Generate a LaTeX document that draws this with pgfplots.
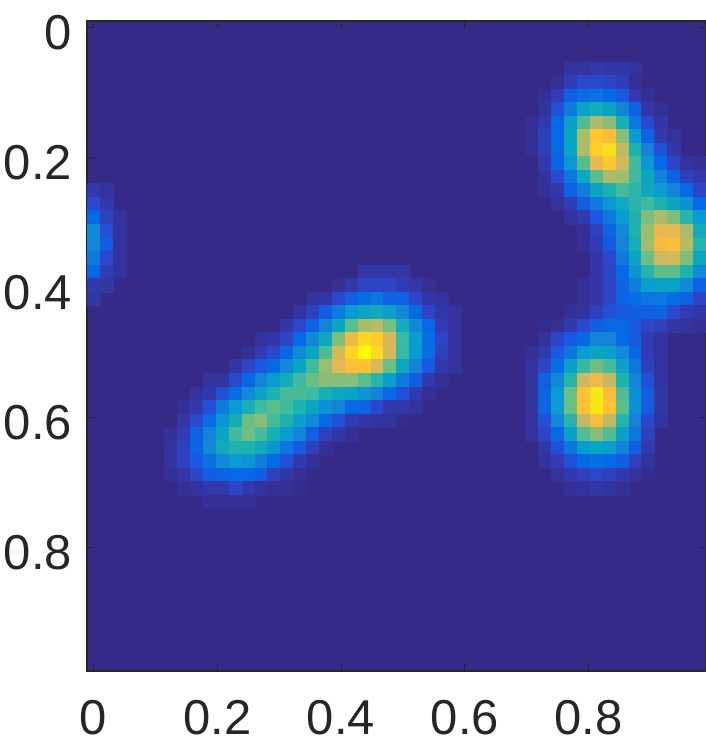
\documentclass[border=0pt]{standalone}
\usepackage{fontspec}
\setmainfont{Liberation Sans}
\usepackage{pgfplots}
\pgfplotsset{compat=1.18}
\definecolor{axisgray}{RGB}{38,38,38}
\definecolor{bgblue}{RGB}{53,42,135}
% one image cell, 1/48 of the axis each way
\pgfdeclareplotmark{cell}{%
  \pgfpathrectangle{\pgfpoint{-3.224pt}{-3.385pt}}{\pgfpoint{6.448pt}{6.77pt}}%
  \pgfusepathqfillstroke}
\begin{document}
\begin{tikzpicture}
\path[use as bounding box] (-43.5pt,-39.5pt) rectangle (309.5pt,335.5pt);
\begin{axis}[
    scale only axis,
    width=309.5pt,
    height=325pt,
    at={(0,0)},
    anchor=south west,
    axis on top,
    y dir=reverse,
    xmin=-0.0104, xmax=0.9896,
    ymin=-0.0104, ymax=0.9896,
    xtick={0,0.2,0.4,0.6,0.8},
    ytick={0,0.2,0.4,0.6,0.8},
    xticklabels={0,0.2,0.4,0.6,0.8},
    yticklabels={0,0.2,0.4,0.6,0.8},
    tick align=inside,
    major tick length=3.5pt,
    tick style={axisgray,line width=0.5pt},
    axis line style={axisgray,line width=0.7pt},
    ticklabel style={font=\fontsize{24.5}{26}\selectfont,text=axisgray},
    yticklabel style={xshift=-4pt,yshift=-2.5pt},
    xticklabel style={yshift=-11pt},
    axis background/.style={fill=bgblue},
    point meta min=0, point meta max=100,
    colormap={parula}{
      rgb255(0pt)=(53,42,135); rgb255(2pt)=(52,48,150); rgb255(4pt)=(51,54,165);
      rgb255(6pt)=(49,60,180); rgb255(9pt)=(42,72,205); rgb255(11pt)=(25,88,225); rgb255(14pt)=(5,105,230);
      rgb255(20pt)=(20,130,215); rgb255(27pt)=(10,155,210); rgb255(33pt)=(10,165,195);
      rgb255(40pt)=(30,178,175); rgb255(46pt)=(60,185,160); rgb255(52pt)=(90,190,140);
      rgb255(58pt)=(125,190,125); rgb255(64pt)=(160,190,110); rgb255(70pt)=(195,185,100);
      rgb255(76pt)=(225,185,85); rgb255(82pt)=(245,185,65); rgb255(87pt)=(255,195,50);
      rgb255(92pt)=(250,215,35); rgb255(97pt)=(245,235,20); rgb255(100pt)=(250,250,10)
    },
]
\addplot[scatter, only marks, mark=cell, scatter src=explicit,
    line width=0.1pt,
    scatter/use mapped color={draw=mapped color,fill=mapped color}]
  table[x expr=\thisrow{k}/48, y expr=\thisrow{r}/48, meta=v] {
k r v
0 12 5
1 12 3
0 13 9
1 13 5
0 14 14
1 14 7
2 14 3
0 15 22
1 15 10
2 15 3
0 16 22
1 16 12
2 16 3
0 17 18
1 17 9
2 17 3
0 18 14
1 18 6
2 18 3
0 19 5
1 19 4
0 20 4
37 3 3
38 3 3
39 3 5
40 3 4
41 3 4
42 3 3
36 4 2
37 4 6
38 4 9
39 4 9
40 4 8
41 4 6
42 4 2
35 5 2
36 5 6
37 5 12
38 5 15
39 5 16
40 5 14
41 5 11
42 5 5
43 5 2
35 6 3
36 6 10
37 6 18
38 6 32
39 6 37
40 6 33
41 6 20
42 6 13
43 6 4
44 6 2
34 7 2
35 7 5
36 7 14
37 7 28
38 7 50
39 7 66
40 7 60
41 7 38
42 7 17
43 7 9
44 7 4
34 8 2
35 8 7
36 8 14
37 8 33
38 8 66
39 8 88
40 8 84
41 8 60
42 8 27
43 8 13
44 8 5
45 8 3
34 9 2
35 9 7
36 9 14
37 9 33
38 9 66
39 9 90
40 9 94
41 9 70
42 9 40
43 9 20
44 9 10
45 9 4
35 10 5
36 10 13
37 10 26
38 10 52
39 10 78
40 10 88
41 10 72
42 10 47
43 10 26
44 10 14
45 10 8
46 10 3
47 10 2
35 11 3
36 11 9
37 11 17
38 11 34
39 11 52
40 11 66
41 11 64
42 11 47
43 11 34
44 11 20
45 11 13
46 11 7
47 11 5
35 12 2
36 12 5
37 12 13
38 12 19
39 12 33
40 12 40
41 12 48
42 12 43
43 12 34
44 12 28
45 12 20
46 12 14
47 12 8
36 13 3
37 13 6
38 13 12
39 13 18
40 13 26
41 13 35
42 13 42
43 13 46
44 13 40
45 13 33
46 13 24
47 13 14
37 14 3
38 14 5
39 14 11
40 14 18
41 14 27
42 14 40
43 14 58
44 14 66
45 14 58
46 14 42
47 14 27
38 15 2
39 15 7
40 15 13
41 15 22
42 15 40
43 15 63
44 15 78
45 15 78
46 15 66
47 15 36
38 16 2
39 16 6
40 16 11
41 16 20
42 16 38
43 16 64
44 16 83
45 16 85
46 16 68
47 16 42
39 17 4
40 17 9
41 17 18
42 17 33
43 17 55
44 17 72
45 17 74
46 17 58
47 17 34
39 18 4
40 18 8
41 18 14
42 18 25
43 18 41
44 18 52
45 18 52
46 18 40
47 18 22
38 19 2
39 19 4
40 19 8
41 19 13
42 19 19
43 19 28
44 19 32
45 19 31
46 19 22
47 19 13
38 20 2
39 20 4
40 20 8
41 20 13
42 20 15
43 20 17
44 20 17
45 20 15
46 20 13
47 20 8
37 21 2
38 21 3
39 21 7
40 21 10
41 21 11
42 21 12
43 21 12
44 21 13
45 21 9
46 21 6
47 21 4
35 22 1
36 22 2
37 22 5
38 22 9
39 22 12
40 22 14
41 22 14
42 22 11
43 22 8
44 22 7
45 22 4
46 22 3
47 22 2
35 23 3
36 23 8
37 23 11
38 23 14
39 23 20
40 23 20
41 23 14
42 23 11
43 23 6
44 23 3
34 24 2
35 24 5
36 24 11
37 24 17
38 24 27
39 24 33
40 24 30
41 24 22
42 24 14
43 24 6
44 24 3
34 25 3
35 25 8
36 25 15
37 25 30
38 25 45
39 25 56
40 25 48
41 25 30
42 25 17
43 25 7
44 25 3
34 26 3
35 26 12
36 26 22
37 26 42
38 26 72
39 26 80
40 26 70
41 26 40
42 26 20
43 26 10
44 26 3
34 27 3
35 27 13
36 27 27
37 27 55
38 27 86
39 27 96
40 27 84
41 27 50
42 27 24
43 27 12
44 27 4
34 28 3
35 28 13
36 28 27
37 28 55
38 28 87
39 28 96
40 28 86
41 28 52
42 28 24
43 28 12
44 28 4
34 29 3
35 29 10
36 29 21
37 29 42
38 29 70
39 29 84
40 29 70
41 29 42
42 29 20
43 29 9
44 29 3
34 30 3
35 30 8
36 30 14
37 30 30
38 30 50
39 30 60
40 30 50
41 30 30
42 30 17
43 30 7
35 31 4
36 31 10
37 31 17
38 31 27
39 31 33
40 31 28
41 31 20
42 31 12
43 31 5
35 32 3
36 32 6
37 32 10
38 32 14
39 32 15
40 32 14
41 32 12
42 32 7
43 32 3
36 33 3
37 33 5
38 33 7
39 33 9
40 33 7
41 33 5
42 33 3
43 33 1
37 34 2
38 34 3
39 34 4
40 34 3
41 34 2
21 18 4
22 18 4
23 18 4
24 18 4
19 19 2
20 19 5
21 19 8
22 19 8
23 19 8
24 19 6
25 19 4
26 19 2
17 20 3
18 20 4
19 20 9
20 20 12
21 20 15
22 20 17
23 20 13
24 20 13
25 20 8
26 20 4
27 20 3
16 21 3
17 21 7
18 21 12
19 21 18
20 21 27
21 21 33
22 21 35
23 21 31
24 21 21
25 21 14
26 21 8
27 21 4
28 21 3
15 22 4
16 22 9
17 22 13
18 22 20
19 22 33
20 22 52
21 22 66
22 22 68
23 22 57
24 22 37
25 22 22
26 22 14
27 22 6
28 22 3
13 23 3
14 23 4
15 23 8
16 23 14
17 23 22
18 23 34
19 23 58
20 23 80
21 23 92
22 23 89
23 23 74
24 23 46
25 23 28
26 23 15
27 23 8
28 23 3
12 24 2
13 24 6
14 24 9
15 24 14
16 24 22
17 24 33
18 24 50
19 24 73
20 24 91
21 24 100
22 24 93
23 24 74
24 24 45
25 24 27
26 24 15
27 24 7
28 24 3
11 25 4
12 25 8
13 25 11
14 25 14
15 25 22
16 25 33
17 25 47
18 25 63
19 25 76
20 25 85
21 25 87
22 25 74
23 25 55
24 25 34
25 25 20
26 25 11
27 25 5
28 25 3
9 26 3
10 26 3
11 26 9
12 26 14
13 26 20
14 26 27
15 26 36
16 26 46
17 26 55
18 26 60
19 26 60
20 26 60
21 26 52
22 26 42
23 26 30
24 26 18
25 26 12
26 26 5
27 26 2
8 27 3
9 27 5
10 27 10
11 27 15
12 27 22
13 27 33
14 27 40
15 27 48
16 27 48
17 27 46
18 27 38
19 27 34
20 27 31
21 27 25
22 27 20
23 27 14
24 27 10
25 27 5
26 27 2
7 28 2
8 28 5
9 28 10
10 28 18
11 28 27
12 28 38
13 28 47
14 28 52
15 28 47
16 28 40
17 28 33
18 28 24
19 28 20
20 28 14
21 28 13
22 28 9
23 28 5
24 28 5
25 28 3
7 29 4
8 29 9
9 29 15
10 29 25
11 29 37
12 29 55
13 29 60
14 29 48
15 29 40
16 29 30
17 29 22
18 29 14
19 29 10
20 29 6
21 29 4
22 29 3
23 29 3
24 29 1
6 30 2
7 30 6
8 30 13
9 30 20
10 30 33
11 30 47
12 30 56
13 30 48
14 30 38
15 30 27
16 30 20
17 30 12
18 30 7
19 30 4
20 30 2
6 31 3
7 31 7
8 31 13
9 31 22
10 31 35
11 31 40
12 31 40
13 31 35
14 31 25
15 31 17
16 31 11
17 31 7
18 31 2
6 32 3
7 32 7
8 32 11
9 32 16
10 32 22
11 32 27
12 32 25
13 32 19
14 32 14
15 32 10
16 32 5
17 32 2
6 33 2
7 33 4
8 33 8
9 33 12
10 33 13
11 33 14
12 33 14
13 33 12
14 33 7
15 33 4
16 33 2
7 34 2
8 34 3
9 34 5
10 34 5
11 34 8
12 34 5
13 34 3
14 34 2
15 34 2
16 34 1
9 35 2
10 35 2
11 35 2
12 35 2
};
\end{axis}
\end{tikzpicture}
\end{document}
